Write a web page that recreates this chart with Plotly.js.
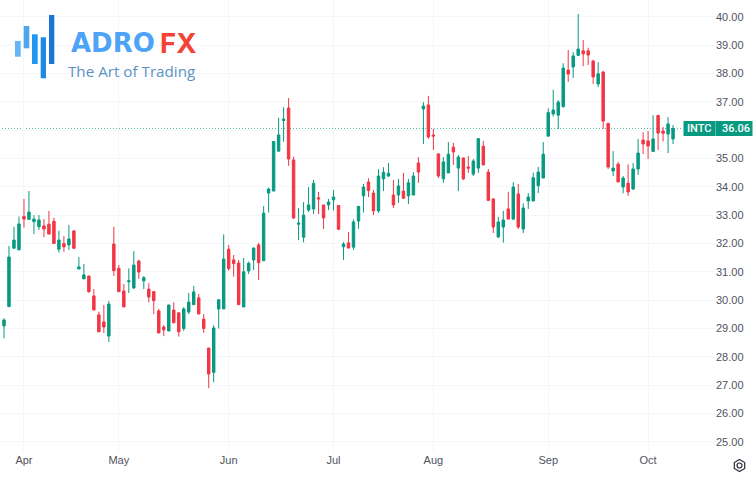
<!DOCTYPE html>
<html><head><meta charset="utf-8">
<script src="https://cdn.plot.ly/plotly-3.0.1.min.js"></script>
<style>html,body{margin:0;padding:0;background:#fff}#chart{width:755px;height:480px}</style>
</head><body><div id="chart"></div>
<script>
const symbol = "INTC";
const lastPrice = 36.06;
const monthLabels = ["Apr","May","Jun","Jul","Aug","Sep","Oct"];
const monthSessions = [4,23,45,66,86,109,129];
const priceTicks = [25,26,27,28,29,30,31,32,33,34,35,36,37,38,39,40];
const priceLabels = ["25.00","26.00","27.00","28.00","29.00","30.00","31.00","32.00","33.00","34.00","35.00","","37.00","38.00","39.00","40.00"];
const open = [29.09,29.77,31.83,31.78,32.95,32.85,32.77,32.59,32.62,32.68,32.78,31.80,32.00,31.95,32.44,31.10,30.75,30.85,30.15,29.48,29.23,28.73,31.98,31.12,30.32,30.65,30.43,31.38,30.68,30.39,30.30,29.62,29.05,28.91,
29.65,29.55,29.00,29.58,29.84,30.08,29.33,28.31,27.45,29.69,29.69,31.80,31.42,31.31,29.76,31.03,31.42,31.95,31.39,
33.78,33.85,35.26,36.34,36.78,34.95,32.68,32.22,33.18,33.22,33.61,33.36,33.36,33.54,33.34,31.88,32.02,31.87,32.79,33.68,34.17,33.78,33.15,34.28,34.38,33.71,33.71,33.85,33.68,33.71,34.84,
36.75,36.89,35.83,35.16,34.28,34.49,35.40,34.66,35.02,34.70,34.45,34.66,35.43,34.52,33.57,32.23,32.58,33.22,32.86,33.75,32.51,33.50,33.50,34.04,34.31,35.79,
36.57,36.53,36.83,38.12,38.23,38.64,38.80,38.80,38.44,37.63,38.05,36.24,34.56,34.80,33.99,34.13,33.92,34.63,35.65,35.62,35.25,36.52,35.97,35.86,35.69];
const close = [29.30,31.52,32.12,32.69,32.86,33.11,32.86,32.83,32.51,32.33,32.00,32.12,31.88,32.16,31.83,31.17,30.89,30.30,29.65,28.88,29.05,29.86,31.04,30.30,29.76,30.68,31.24,30.99,30.79,30.11,29.98,28.84,28.95,29.83,
29.20,28.88,29.69,29.93,30.29,29.51,29.00,27.39,29.02,30.01,31.45,31.11,31.29,29.84,31.00,31.30,31.84,31.32,33.07,
33.92,35.60,35.83,36.39,34.98,32.90,32.72,33.00,33.36,34.12,33.57,32.90,33.46,33.64,32.50,31.98,31.84,32.76,33.31,33.99,33.87,33.15,34.38,34.51,34.48,33.36,34.03,33.60,34.14,34.38,34.52,
36.85,35.76,35.79,34.38,34.88,35.15,35.23,35.05,34.28,34.66,34.91,35.70,34.77,33.52,32.58,32.76,32.83,32.86,33.99,32.58,33.25,33.64,34.32,34.52,35.15,36.62,
36.71,36.99,38.19,37.98,38.62,38.86,38.69,38.65,37.88,37.99,36.32,34.70,34.66,34.17,34.31,33.82,34.63,35.19,35.51,35.44,35.69,35.90,35.89,36.22,36.06];
const high = [29.36,31.91,32.59,32.95,33.57,33.85,33.00,33.00,32.86,33.15,32.91,32.45,32.26,32.65,32.48,31.52,31.28,30.86,30.39,29.59,29.83,29.97,32.59,31.24,30.57,31.12,31.73,31.42,30.85,30.60,30.32,29.69,29.12,29.83,
29.92,29.57,29.75,30.25,30.50,30.22,29.51,28.31,29.11,30.04,32.32,31.95,31.59,31.42,31.49,31.36,31.85,32.02,33.32,
33.97,35.60,36.44,36.81,37.13,35.06,33.25,33.46,33.99,34.24,33.82,33.36,33.57,33.89,33.34,32.05,32.40,32.85,33.32,34.10,34.30,33.89,34.62,34.69,34.84,34.24,34.28,34.49,34.28,34.52,35.05,
36.99,37.21,36.04,35.19,35.05,35.58,35.55,35.12,35.02,35.09,34.98,35.72,35.62,34.63,33.60,32.94,33.15,33.82,34.16,34.10,33.42,33.78,34.50,34.70,35.58,36.77,
37.42,37.06,38.36,38.83,38.76,40.10,39.18,38.91,38.48,38.40,38.09,36.25,35.26,34.88,34.38,34.79,34.84,35.69,35.93,35.97,36.53,36.53,36.11,36.46,36.18];
const low = [28.65,29.77,31.83,31.75,32.56,32.85,32.33,32.48,32.22,32.33,32.00,31.68,31.71,31.77,31.80,31.09,30.75,30.26,29.65,28.88,28.84,28.52,30.85,30.30,29.76,30.25,30.39,30.75,30.39,29.92,29.51,28.84,28.73,28.91,
29.18,28.71,28.91,29.51,29.83,29.51,28.85,26.89,27.10,29.00,29.69,31.04,30.83,29.83,29.75,30.92,31.06,30.71,31.38,
33.09,33.85,35.23,35.59,34.74,32.86,32.12,32.04,33.11,33.04,33.04,32.51,33.18,33.16,32.48,31.42,31.83,31.77,32.52,33.09,33.64,33.00,33.08,33.85,34.35,33.25,33.43,33.57,33.39,33.71,34.14,
35.51,35.69,35.30,34.31,34.14,34.49,34.77,33.85,34.24,34.49,34.38,34.49,34.77,33.50,32.37,32.19,32.03,32.86,32.83,32.51,32.37,33.22,33.50,33.78,34.31,35.76,
36.48,36.04,36.80,37.70,37.84,38.62,38.26,38.30,37.63,37.52,36.04,34.63,34.38,34.17,33.77,33.68,33.89,34.42,35.16,34.98,35.23,35.30,35.60,35.19,35.51];

const session = open.map((_, i) => i);
const GREEN = "#089981", RED = "#f23645", GRID = "#f4f6f9", TEXT = "#50535e";
const FONT = "'Liberation Sans', Arial, sans-serif";
const LOGO = "Inter, 'Open Sans', sans-serif";
const PW = 715, PH = 452;
const px = v => v / PW, py = v => 1 - v / PH;
const rect = (x0, y0, x1, y1, c) => ({type:"rect", xref:"paper", yref:"paper", x0:px(x0), x1:px(x1), y0:py(y0), y1:py(y1), fillcolor:c, line:{width:0}, layer:"above"});
const hex = [[739.5,459.5],[744.7,462.5],[744.7,468.5],[739.5,471.5],[734.3,468.5],[734.3,462.5]];
const logoBars = [[15,41,20.7,56.7,"#64b5f6"],[23.7,26,29.3,48.3,"#4fa6ee"],[32,34.3,37.7,64,"#2196f3"],[40.7,37.3,46,78.3,"#1e88e5"],[49,15,54.3,64,"#1976d2"]];

const shapes = [
  {type:"line", xref:"x", yref:"y", x0:-1, x1:136, y0:lastPrice, y1:lastPrice, line:{color:"rgba(8,153,129,0.75)", width:1, dash:"1px,2px"}, layer:"below"},
  rect(683.5,121,752.5,136,GREEN),
  {type:"line", xref:"paper", yref:"paper", x0:px(715.5), x1:px(715.5), y0:py(121), y1:py(136), line:{color:"#5fbcaa", width:1}, layer:"above"},
  {type:"path", xref:"paper", yref:"paper", path:"M"+hex.map(p=>px(p[0])+","+py(p[1])).join("L")+"Z", line:{color:"#2a2e39", width:1.2}, fillcolor:"rgba(0,0,0,0)"},
  {type:"circle", xref:"paper", yref:"paper", x0:px(737), x1:px(742), y0:py(463), y1:py(468), line:{color:"#2a2e39", width:1.2}, fillcolor:"rgba(0,0,0,0)"}
].concat(logoBars.map(b => rect(b[0],b[1],b[2],b[3],b[4])));

const ann = (x, y, text, size, color, anchor, family, weight) => ({xref:"paper", yref:"paper", x:px(x), y:py(y), text, showarrow:false, xanchor:anchor||"left", yanchor:"middle", font:{size, color, family:family||FONT, weight:weight||400}, borderpad:0});

const annotations = [
  ann(699,128.5,symbol,11,"#ffffff","center","Roboto, sans-serif",500),
  ann(735.5,128.5,lastPrice.toFixed(2),11,"#ffffff","center","Roboto, sans-serif",500),
  ann(70,43,"ADRO",26,"#4da3f5","left","'DejaVu Sans', sans-serif",700),
  ann(159,43,"FX",27.5,"#f44336","left",LOGO,700),
  ann(67,71,"The Art of Trading",15.2,"#5b92c4","left","'Open Sans', sans-serif",400)
];

Plotly.newPlot("chart", [{
  type:"candlestick", x:session, open, high, low, close,
  increasing:{line:{color:GREEN, width:1}, fillcolor:GREEN},
  decreasing:{line:{color:RED, width:1}, fillcolor:RED},
  whiskerwidth:0, hoverinfo:"skip", showlegend:false
}], {
  width:755, height:480, margin:{l:0, r:40, t:0, b:28, pad:0},
  paper_bgcolor:"#ffffff", plot_bgcolor:"#ffffff", showlegend:false, boxgap:0.3,
  font:{family:FONT, size:11, color:TEXT},
  xaxis:{type:"linear", range:[-0.8,142.4], tickmode:"array", tickvals:monthSessions, ticktext:monthLabels,
    showgrid:true, gridcolor:GRID, gridwidth:1, zeroline:false, showline:false, ticks:"", rangeslider:{visible:false},
    tickfont:{size:11, color:TEXT, family:FONT}, fixedrange:true},
  yaxis:{side:"right", range:[24.639,40.594], tickmode:"array", tickvals:priceTicks, ticktext:priceLabels,
    showgrid:true, gridcolor:GRID, gridwidth:1, zeroline:false, showline:false, ticks:"",
    tickfont:{size:11, color:TEXT, family:FONT}, fixedrange:true},
  shapes, annotations
}, {staticPlot:true, displayModeBar:false});
</script></body></html>
